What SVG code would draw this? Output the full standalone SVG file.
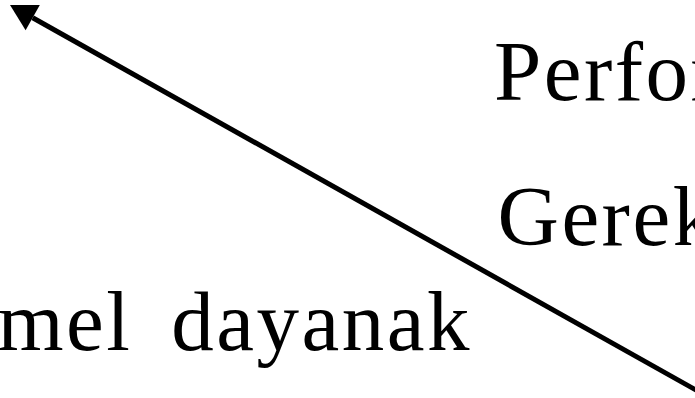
<svg xmlns="http://www.w3.org/2000/svg" width="695" height="398" viewBox="0 0 695 398">
<style>
.lbl{font-family:"Liberation Serif","Times New Roman",serif;font-size:85px;fill:#000;letter-spacing:2.5px}
.conn{stroke:#000;stroke-width:5;fill:none}
</style>
<defs>
<marker id="ah" markerUnits="userSpaceOnUse" viewBox="0 -15 27 30" markerWidth="27" markerHeight="30" refX="0" refY="0" orient="auto" overflow="visible">
<path d="M0,-14.5 L26,0 L0,14.5 z" fill="#000"/>
</marker>
</defs>
<rect width="695" height="398" fill="#fff"/>
<g id="connectors">
<line class="conn" x1="700" y1="392.3" x2="32.7" y2="17.7" marker-end="url(#ah)"/>
</g>
<g id="node-perfor"><text class="lbl" x="494" y="100">Perfor</text></g>
<g id="node-gerek"><text class="lbl" x="497.5" y="244.5">Gerek</text></g>
<g id="node-temel"><text class="lbl" x="-2.5" y="350" word-spacing="15">mel dayanak</text></g>
</svg>
